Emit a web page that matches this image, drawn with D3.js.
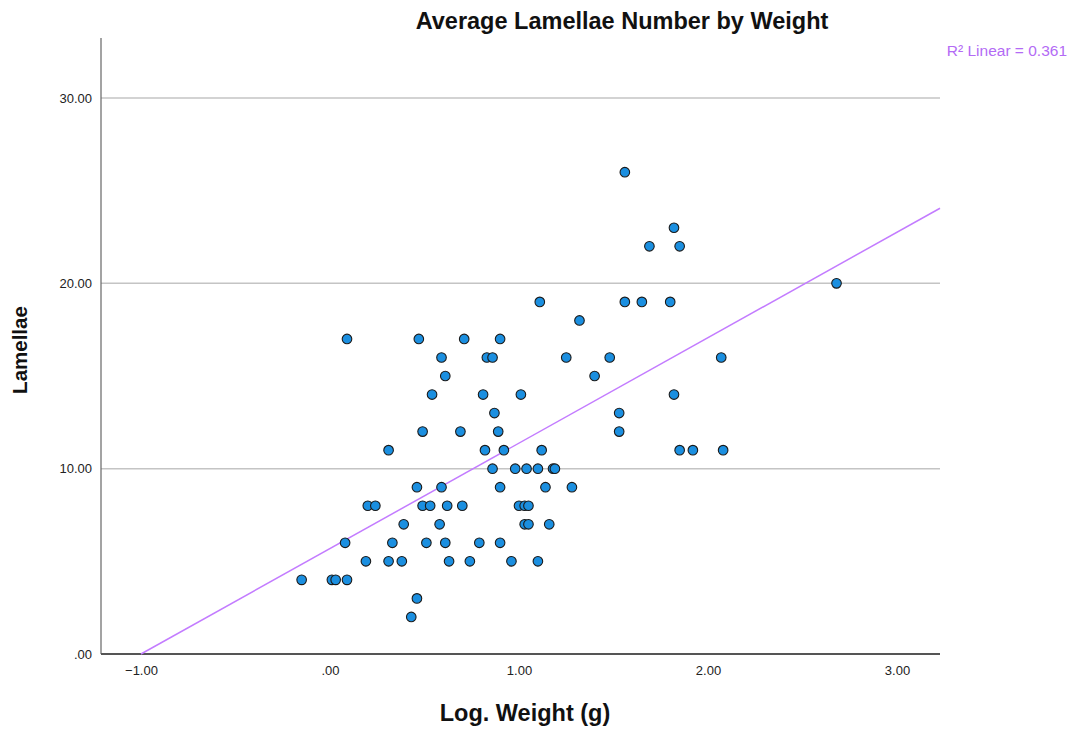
<!DOCTYPE html>
<html><head><meta charset="utf-8">
<script src="https://cdn.jsdelivr.net/npm/d3@7/dist/d3.min.js"></script>
<style>body{margin:0;background:#fff}svg{display:block}text{font-family:"Liberation Sans",Arial,sans-serif}</style>
</head><body><svg id="c" width="1072" height="729"></svg>
<script>
const logWeight = [1.56,1.82,1.69,1.85,2.68,1.11,1.56,1.65,1.80,1.32,
0.09,0.47,0.71,0.90,0.59,0.83,0.86,1.25,1.48,2.07,0.61,1.40,
0.54,0.81,1.01,1.82,0.87,1.53,0.49,0.69,0.89,1.53,
0.31,0.82,0.92,1.12,1.85,1.92,2.08,
0.86,0.98,1.04,1.10,1.18,1.19,
0.46,0.59,0.90,1.14,1.28,
0.20,0.24,0.49,0.53,0.62,0.70,1.00,1.03,1.05,
0.39,0.58,1.03,1.05,1.16,
0.08,0.33,0.51,0.61,0.79,0.90,
0.19,0.31,0.38,0.63,0.74,0.96,1.10,
-0.15,0.01,0.03,0.09,0.46,0.43];
const lamellae = [26,23,22,22,20,19,19,19,19,18,
17,17,17,17,16,16,16,16,16,16,15,15,
14,14,14,14,13,13,12,12,12,12,
11,11,11,11,11,11,11,
10,10,10,10,10,10,
9,9,9,9,9,
8,8,8,8,8,8,8,8,8,
7,7,7,7,7,
6,6,6,6,6,6,
5,5,5,5,5,5,5,
4,4,4,4,3,2];
const xTicks = [-1,0,1,2,3];
const yTicks = [0,10,20,30];
const fitIntercept = 5.69, fitSlope = 5.69;
const r2Label = "R² Linear = 0.361";

const svg = d3.select("#c");
const L=101,R=940,T=38,B=654;
const x = d3.scaleLinear().domain([-1.2116,3.2275]).range([L,R]);
const y = d3.scaleLinear().domain([0,33.24]).range([B,T]);
const fmt = v => { let s = d3.format(".2f")(v); return s.replace(/^(-?)0\./,"$1."); };

// gridlines
svg.append("g").selectAll("line").data(yTicks.filter(d=>d>0)).join("line")
 .attr("x1",L).attr("x2",R).attr("y1",d=>y(d)).attr("y2",d=>y(d))
 .attr("stroke","#c4c4c4").attr("stroke-width",1.5);

// axes
const ya = svg.append("g").attr("transform",`translate(${L},0)`)
 .call(d3.axisLeft(y).tickValues(yTicks).tickFormat(fmt).tickSize(0).tickPadding(9));
ya.select(".domain").remove();
ya.selectAll("text").attr("font-size",13).attr("fill","#222");
const xa = svg.append("g").attr("transform",`translate(0,${B})`)
 .call(d3.axisBottom(x).tickValues(xTicks).tickFormat(fmt).tickSize(0).tickPadding(12));
xa.select(".domain").remove();
xa.selectAll("text").attr("font-size",13).attr("fill","#222");

svg.append("line").attr("x1",L).attr("x2",L).attr("y1",T).attr("y2",B).attr("stroke","#666").attr("stroke-width",1.2);
svg.append("line").attr("x1",L).attr("x2",R).attr("y1",B).attr("y2",B).attr("stroke","#555").attr("stroke-width",2);

// fit line
const x0 = -fitIntercept/fitSlope, x1 = 3.2275;
svg.append("line").attr("x1",x(x0)).attr("y1",y(0)).attr("x2",x(x1)).attr("y2",y(fitIntercept+fitSlope*x1))
 .attr("stroke","#c37cff").attr("stroke-width",1.5);

// points
svg.append("g").selectAll("circle").data(logWeight.map((w,i)=>[w,lamellae[i]])).join("circle")
 .attr("cx",d=>x(d[0])).attr("cy",d=>y(d[1])).attr("r",4.8)
 .attr("fill","#1b8fe0").attr("stroke","#1a1a1a").attr("stroke-width",1.1);

// texts
svg.append("text").attr("x",622).attr("y",29).attr("text-anchor","middle")
 .attr("font-size",23.5).attr("font-weight","bold").attr("fill","#111").text("Average Lamellae Number by Weight");
svg.append("text").attr("x",525).attr("y",721).attr("text-anchor","middle")
 .attr("font-size",23.5).attr("font-weight","bold").attr("fill","#111").text("Log. Weight (g)");
svg.append("text").attr("transform","translate(27,350) rotate(-90)").attr("text-anchor","middle")
 .attr("font-size",20.5).attr("font-weight","bold").attr("fill","#111").text("Lamellae");
svg.append("text").attr("x",1067).attr("y",56).attr("text-anchor","end")
 .attr("font-size",15.5).attr("fill","#b36bf5").text(r2Label);
</script></body></html>
